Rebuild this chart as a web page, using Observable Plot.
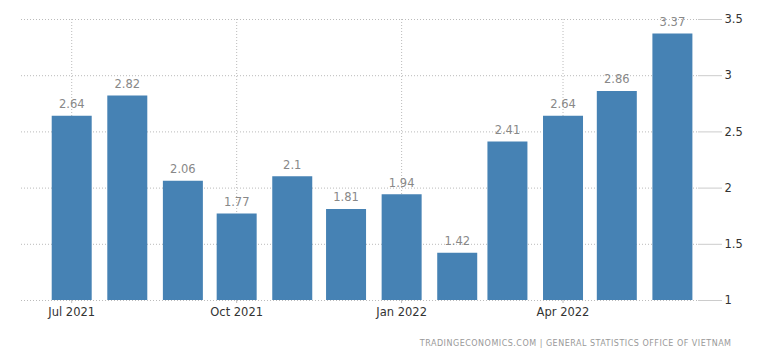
<!DOCTYPE html>
<html>
<head>
<meta charset="utf-8">
<script src="https://cdn.jsdelivr.net/npm/d3@7"></script>
<script src="https://cdn.jsdelivr.net/npm/@observablehq/plot@0.6"></script>
<style>
  html, body { margin: 0; padding: 0; background: #fff; }
  #chart svg { display: block; }
  .caption text { letter-spacing: 0.5px; }
</style>
</head>
<body>
<div id="chart"></div>
<script>
const months = ["2021-07-01","2021-08-01","2021-09-01","2021-10-01","2021-11-01","2021-12-01",
                "2022-01-01","2022-02-01","2022-03-01","2022-04-01","2022-05-01","2022-06-01"];
const values = [2.64, 2.82, 2.06, 1.77, 2.1, 1.81, 1.94, 1.42, 2.41, 2.64, 2.86, 3.37];
const yTicks = [1, 1.5, 2, 2.5, 3, 3.5];
const xTicks = ["2021-07-01","2021-10-01","2022-01-01","2022-04-01"];
const caption = "TRADINGECONOMICS.COM | GENERAL STATISTICS OFFICE OF VIETNAM";

const data = months.map((m, i) => ({date: new Date(m), value: values[i]}));
const xTickDates = xTicks.map(d => new Date(d));

const chart = Plot.plot({
  width: 768,
  height: 362,
  marginLeft: 21,
  marginRight: 71,
  marginTop: 19,
  marginBottom: 62,
  style: {fontFamily: "DejaVu Sans", fontSize: "11px", color: "#333", background: "#fff"},
  x: {type: "utc", domain: [new Date("2021-06-03"), new Date("2022-06-15")]},
  y: {domain: [1, 3.5]},
  marks: [
    Plot.gridY(yTicks, {stroke: "#bbb", strokeOpacity: 1, strokeDasharray: "1,2"}),
    Plot.gridX(xTickDates, {stroke: "#bbb", strokeOpacity: 1, strokeDasharray: "1,2", y1: 1, y2: 3.5, insetTop: -19}),
    Plot.ruleX(data, {x: "date", y1: 1, y2: "value", stroke: "#4682b4", strokeWidth: 40}),
    Plot.text(data, {x: "date", y: "value", text: d => String(d.value), lineAnchor: "bottom", dy: -8,
      fill: "#888", fontSize: 11.5}),
    Plot.axisY(yTicks, {anchor: "right", tickSize: 24, tickPadding: 3, stroke: "#ccc",
      tickFormat: d => String(d), fill: "#333", fontSize: 11.5, label: null}),
    Plot.axisX(xTickDates, {tickSize: 3, stroke: "#bbb", tickPadding: 4, tickFormat: d3.utcFormat("%b %Y"),
      fill: "#333", fontSize: 11.5, label: null}),
    Plot.text([caption], {frameAnchor: "bottom-right", text: d => d, dx: 34, dy: 45,
      fill: "#999", fontSize: 8, textAnchor: "end", className: "caption"})
  ]
});
document.getElementById("chart").appendChild(chart);
</script>
</body>
</html>
